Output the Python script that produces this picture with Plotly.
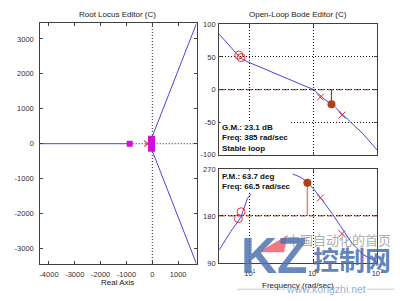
import plotly.graph_objects as go

W, H = 400, 301
FONT = "Liberation Sans, Arial, sans-serif"

# ---------------- Root locus data ----------------
locus_real_x = [-4500, -875]
locus_real_y = [0, 0]
locus_up_x = [-30, 1800]
locus_up_y = [150, 3612]
locus_lo_x = [-30, 1800]
locus_lo_y = [-150, -3612]
cl_pole_real_x = [-875]
cl_pole_real_y = [0]
cl_pole_orig_x = [-30, -30, -30]
cl_pole_orig_y = [0, 130, -130]
ol_pole_x = [-190]
ol_pole_y = [0]
rl_xticks = [-4000, -3000, -2000, -1000, 0, 1000]
rl_xticktext = ["-4000", "-3000", "-2000", "-1000", "0", "1000"]
rl_yticks = [-3000, -2000, -1000, 0, 1000, 2000, 3000]
rl_yticktext = ["-3000", "-2000", "-1000", "0", "1000", "2000", "3000"]

# ---------------- Bode magnitude ----------------
mag_freq = [3.3, 4.5, 6, 7.2, 9, 12, 17, 25, 40, 60, 100, 150, 220, 300, 400, 600, 1000]
mag_db = [85, 70, 56, 48, 43, 38, 31, 25, 17, 10, 0, -15, -27, -40, -52, -68, -93]
mag_circ_freq = [6.7, 7.3]
mag_circ_db = [53, 49]
mag_x_freq = [128, 279]
mag_x_db = [-11.5, -39]
gm_freq = [191]
gm_db = [-22.4]
mag_yticks = [-100, -50, 0, 50, 100]
mag_yticktext = ["-100", "-50", "0", "50", "100"]

# ---------------- Bode phase ----------------
ph_freq_low = [3.3, 5, 7.2, 9.2, 10.5]
ph_low = [115, 150, 177, 214, 222]
ph_freq_high = [33.8, 45, 55, 65, 80, 100, 130, 170, 200, 250, 300, 400, 600, 1000]
ph_high = [262, 261, 257, 253, 244, 232, 214, 196, 183, 165, 150, 128, 106, 92]
ph_circ_freq = [7.3, 6.6]
ph_circ_deg = [188, 175]
ph_x_freq = [128, 280]
ph_x_deg = [214.5, 146]
pm_freq = [80]
pm_deg = [243.7]
ph_yticks = [90, 180, 270]
ph_yticktext = ["90", "180", "270"]
freq_ticks = [10, 100, 1000]
freq_ticktext = ["10<sup>1</sup>", "10<sup>2</sup>", "10<sup>3</sup>"]

BLUE = "#4646dc"
RED = "#ee2a2a"
BROWN = "#b0401a"
MAG = "#d010d8"
DASHRED = "#b85a50"
DOT = "1px,2px"


def px_x(p):
    return p / W


def px_y(p):
    return 1 - p / H


fig = go.Figure()

# Root locus traces
fig.add_trace(go.Scatter(x=locus_real_x, y=locus_real_y, mode="lines",
                         line=dict(color=BLUE, width=1), xaxis="x", yaxis="y"))
fig.add_trace(go.Scatter(x=locus_up_x, y=locus_up_y, mode="lines",
                         line=dict(color=BLUE, width=1), xaxis="x", yaxis="y"))
fig.add_trace(go.Scatter(x=locus_lo_x, y=locus_lo_y, mode="lines",
                         line=dict(color=BLUE, width=1), xaxis="x", yaxis="y"))
fig.add_trace(go.Scatter(x=ol_pole_x, y=ol_pole_y, mode="markers",
                         marker=dict(symbol="x-thin-open", size=6, color=RED,
                                     line=dict(color=RED, width=1.2)),
                         xaxis="x", yaxis="y"))
fig.add_trace(go.Scatter(x=cl_pole_real_x, y=cl_pole_real_y, mode="markers",
                         marker=dict(symbol="square", size=6, color=MAG),
                         xaxis="x", yaxis="y"))
fig.add_trace(go.Scatter(x=cl_pole_orig_x, y=cl_pole_orig_y, mode="markers",
                         marker=dict(symbol="square", size=7, color=MAG),
                         xaxis="x", yaxis="y"))

# Bode magnitude traces
fig.add_trace(go.Scatter(x=mag_freq, y=mag_db, mode="lines", line=dict(color=BLUE, width=1),
                         xaxis="x2", yaxis="y2"))
fig.add_trace(go.Scatter(x=[gm_freq[0], gm_freq[0]], y=[0, gm_db[0]], mode="lines",
                         line=dict(color="#8a3a28", width=1.2), xaxis="x2", yaxis="y2"))
fig.add_trace(go.Scatter(x=gm_freq, y=gm_db, mode="markers",
                         marker=dict(size=8, color=BROWN), xaxis="x2", yaxis="y2"))
fig.add_trace(go.Scatter(x=mag_circ_freq, y=mag_circ_db, mode="markers",
                         marker=dict(symbol="circle-open", size=8, color=RED, line=dict(width=1)),
                         xaxis="x2", yaxis="y2"))
fig.add_trace(go.Scatter(x=mag_x_freq, y=mag_x_db, mode="markers",
                         marker=dict(symbol="x-thin-open", size=7, color=RED, line=dict(color=RED, width=1)),
                         xaxis="x2", yaxis="y2"))

# Bode phase traces
fig.add_trace(go.Scatter(x=ph_freq_low, y=ph_low, mode="lines", line=dict(color=BLUE, width=1),
                         xaxis="x3", yaxis="y3"))
fig.add_trace(go.Scatter(x=ph_freq_high, y=ph_high, mode="lines", line=dict(color=BLUE, width=1),
                         xaxis="x3", yaxis="y3"))
fig.add_trace(go.Scatter(x=[pm_freq[0], pm_freq[0]], y=[180, pm_deg[0]], mode="lines",
                         line=dict(color="#d88a7a", width=1.5), xaxis="x3", yaxis="y3"))
fig.add_trace(go.Scatter(x=pm_freq, y=pm_deg, mode="markers",
                         marker=dict(size=8, color=BROWN), xaxis="x3", yaxis="y3"))
fig.add_trace(go.Scatter(x=ph_circ_freq, y=ph_circ_deg, mode="markers",
                         marker=dict(symbol="circle-open", size=8, color=RED, line=dict(width=1)),
                         xaxis="x3", yaxis="y3"))
fig.add_trace(go.Scatter(x=ph_x_freq, y=ph_x_deg, mode="markers",
                         marker=dict(symbol="x-thin-open", size=7, color=RED, line=dict(color=RED, width=1)),
                         xaxis="x3", yaxis="y3"))

tickfont = dict(family=FONT, size=7.5, color="#303030")
axcommon = dict(showline=True, linecolor="#404040", linewidth=1, mirror="ticks",
                ticks="inside", ticklen=3, tickcolor="#404040", tickfont=tickfont,
                zeroline=False, fixedrange=True)
gridcommon = dict(showgrid=True, griddash=DOT, gridcolor="#101010", gridwidth=1)

fig.update_layout(
    width=W, height=H, margin=dict(l=0, r=0, t=0, b=0),
    paper_bgcolor="white", plot_bgcolor="white", showlegend=False,
    xaxis=dict(domain=[px_x(40), px_x(199)], range=[-4335, 1711], tickvals=rl_xticks,
               ticktext=rl_xticktext, showgrid=False, anchor="y", ticklabelstandoff=3, **axcommon),
    yaxis=dict(domain=[px_y(268), px_y(20)], range=[-3444, 3444], tickvals=rl_yticks,
               ticktext=rl_yticktext, showgrid=False, anchor="x", ticklabelstandoff=4, **axcommon),
    xaxis2=dict(domain=[px_x(222), px_x(383)], type="log", range=[0.518, 3.0], tickvals=freq_ticks,
                showticklabels=False, anchor="y2", **gridcommon, **axcommon),
    yaxis2=dict(domain=[px_y(155.5), px_y(21)], range=[-100, 100], tickvals=mag_yticks,
                ticktext=mag_yticktext, anchor="x2", ticklabelstandoff=1, **gridcommon, **axcommon),
    xaxis3=dict(domain=[px_x(222), px_x(383)], type="log", range=[0.518, 3.0], tickvals=freq_ticks,
                ticktext=freq_ticktext, anchor="y3", ticklabelstandoff=3, **gridcommon, **axcommon),
    yaxis3=dict(domain=[px_y(267), px_y(170)], range=[90, 270], tickvals=ph_yticks,
                ticktext=ph_yticktext, anchor="x3", ticklabelstandoff=1, **gridcommon, **axcommon),
)

shapes = [
    # root locus reference lines
    dict(type="line", xref="x", yref="y domain", x0=0, x1=0, y0=0, y1=1,
         line=dict(color="#202020", width=1, dash=DOT), layer="below"),
    dict(type="line", xref="x", yref="y", x0=-875, x1=1711, y0=0, y1=0,
         line=dict(color="#202020", width=1, dash=DOT), layer="below"),
    # 0 dB and -180 deg reference lines
    dict(type="line", xref="x2 domain", yref="y2", x0=0, x1=1, y0=0, y1=0,
         line=dict(color=DASHRED, width=1.2, dash="6px,3px"), layer="below"),
    dict(type="line", xref="x3 domain", yref="y3", x0=0, x1=1, y0=180, y1=180,
         line=dict(color=DASHRED, width=1.2, dash="6px,3px"), layer="below"),
]

# watermark decorations
shapes += [
    dict(type="path", xref="paper", yref="paper",
         path=f"M {px_x(262)},{px_y(256)} L {px_x(292)},{px_y(238)} L {px_x(288)},{px_y(256)} Z",
         fillcolor="rgba(235,95,110,0.85)", line=dict(width=0)),
    dict(type="line", xref="paper", yref="paper", x0=px_x(240), x1=px_x(290), y0=px_y(294), y1=px_y(294),
         line=dict(color="rgba(170,170,170,0.6)", width=1)),
    dict(type="line", xref="paper", yref="paper", x0=px_x(372), x1=px_x(400), y0=px_y(294), y1=px_y(294),
         line=dict(color="rgba(170,170,170,0.6)", width=1)),
]
fig.update_layout(shapes=shapes)

titlefont = dict(family=FONT, size=8, color="#202020")
boxfont = dict(family=FONT, size=8, color="#101010")
ann = [
    dict(text="Root Locus Editor (C)", x=px_x(119), y=px_y(11), xref="paper", yref="paper",
         showarrow=False, font=titlefont, xanchor="center", yanchor="middle"),
    dict(text="Open-Loop Bode Editor (C)", x=px_x(302), y=px_y(11), xref="paper", yref="paper",
         showarrow=False, font=titlefont, xanchor="center", yanchor="middle"),
    dict(text="Real Axis", x=px_x(119), y=px_y(287), xref="paper", yref="paper",
         showarrow=False, font=titlefont, xanchor="center", yanchor="middle"),
    dict(text="Frequency (rad/sec)", x=px_x(302), y=px_y(290), xref="paper", yref="paper",
         showarrow=False, font=titlefont, xanchor="center", yanchor="middle"),
    dict(text="<b>G.M.: 23.1 dB</b><br><b>Freq: 385 rad/sec</b><br><b>Stable loop</b>",
         x=px_x(223), y=px_y(121), xref="paper", yref="paper", showarrow=False,
         font=boxfont, xanchor="left", yanchor="top", align="left",
         bgcolor="white", borderpad=1),
    dict(text="<b>P.M.: 63.7 deg</b><br><b>Freq: 66.5 rad/sec</b>",
         x=px_x(223), y=px_y(171), xref="paper", yref="paper", showarrow=False,
         font=boxfont, xanchor="left", yanchor="top", align="left",
         bgcolor="white", borderpad=1),
    # watermark
    dict(text="中国自动化的首页", x=px_x(344), y=px_y(243), xref="paper", yref="paper",
         showarrow=False, font=dict(family="Noto Sans CJK SC", size=13, color="rgba(150,150,150,0.8)"),
         xanchor="center", yanchor="middle"),
    dict(text="<b>KZ</b>", x=px_x(278), y=px_y(260), xref="paper", yref="paper",
         showarrow=False, font=dict(family=FONT, size=50, color="rgba(80,115,175,0.85)"),
         xanchor="center", yanchor="middle"),
    dict(text="<b>控制网</b>", x=px_x(357), y=px_y(262), xref="paper", yref="paper",
         showarrow=False, font=dict(family="Noto Sans CJK SC", size=26, color="rgba(70,110,175,0.85)"),
         xanchor="center", yanchor="middle"),
    dict(text="www.kongzhi.net", x=px_x(331), y=px_y(294), xref="paper", yref="paper",
         showarrow=False, font=dict(family=FONT, size=10.5, color="rgba(130,160,210,0.85)"),
         xanchor="center", yanchor="middle"),
]
fig.update_layout(annotations=ann)

fig.write_html("out.html")
